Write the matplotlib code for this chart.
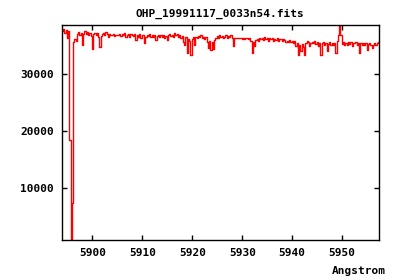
import numpy as np
import matplotlib
matplotlib.use('Agg')
import matplotlib.pyplot as plt

# spectrum, sampled every 0.25 Angstrom from 5894.0
WAVE_START = 5894.0
WAVE_STEP = 0.25

flux = [
    # 5894.00 - 5898.75
    37500, 37800, 37100, 37600, 36300, 37400, 18400, 830, 7400, 35500,
    36000, 35800, 37000, 37300, 36800, 37200, 35100, 36900, 37400, 36900,
    # 5899.00 - 5903.75
    37300, 36800, 37200, 36600, 34300, 36900, 37100, 36700, 37200, 36400,
    34700, 36600, 36900, 37200, 36800, 37300, 36900, 36500, 37000, 36800,
    # 5904.00 - 5908.75
    36700, 36900, 36600, 36700, 36800, 36700, 37000, 36600, 36900, 36700,
    37100, 36500, 36800, 36900, 36400, 37000, 36700, 36600, 36900, 35900,
    # 5909.00 - 5913.75
    36800, 36500, 36900, 36300, 36700, 36800, 35400, 36500, 36800, 36600,
    36900, 36400, 36700, 36500, 36800, 35900, 36600, 36800, 36400, 36700,
    # 5914.00 - 5918.75
    36500, 36800, 36300, 36600, 35900, 36700, 37000, 36600, 36800, 36500,
    37100, 36700, 36900, 36400, 36800, 36200, 36600, 35500, 35100, 36500,
    # 5919.00 - 5923.75
    33700, 36000, 35700, 33300, 36100, 36400, 35100, 36500, 36300, 36600,
    36400, 36700, 36200, 36500, 36000, 36400, 35600, 34500, 35800, 34200,
    # 5924.00 - 5928.75
    35500, 34300, 35900, 36200, 36600, 36300, 36700, 36400, 36600, 36200,
    36500, 36700, 36300, 36600, 36400, 36800, 36300, 34900, 36200, 36300,
    # 5929.00 - 5933.75
    36300, 36200, 36300, 36200, 36100, 36300, 36000, 36300, 36200, 36100,
    36300, 35700, 33700, 35600, 34800, 35900, 36100, 35800, 36200, 36000,
    # 5934.00 - 5938.75
    36300, 35900, 36400, 36100, 36300, 35700, 36200, 36000, 36300, 35800,
    36100, 35900, 36200, 35700, 36100, 36000, 35800, 36100, 35900, 35600,
    # 5939.00 - 5943.75
    35800, 35600, 35900, 35500, 35800, 35400, 35700, 34900, 35300, 33200,
    35100, 33900, 35200, 34600, 33200, 35300, 35800, 35500, 34800, 35400,
    # 5944.00 - 5948.75
    35600, 35300, 35700, 35200, 35500, 34900, 35400, 33200, 35300, 35600,
    35000, 35400, 33900, 35200, 35500, 35100, 35400, 35000, 35300, 33700,
    # 5949.00 - 5953.75
    35800, 36800, 38550, 36700, 35200, 35500, 35100, 35400, 35000, 35600,
    35200, 35500, 34900, 35400, 35300, 35600, 35100, 35400, 33600, 35300,
    # 5954.00 - 5957.25
    35000, 35400, 35100, 35300, 34200, 35200, 35400, 35000, 34500, 35100,
    35300, 35000, 35400, 35500,
]

xticks = [5900, 5910, 5920, 5930, 5940, 5950]
yticks = [10000, 20000, 30000]
TITLE = 'OHP_19991117_0033n54.fits'
XLABEL = 'Angstrom'

wave = WAVE_START + WAVE_STEP * np.arange(len(flux))

font = dict(family='DejaVu Sans Mono', weight='bold', size=8)

fig = plt.figure(figsize=(4.0, 2.8), dpi=100)
ax = fig.add_axes([0.156, 0.143, 0.792, 0.768])

ax.step(wave, flux, where='mid', color='#ff0000', lw=1.0)

ax.set_xlim(5894.0, 5957.4)
ax.set_ylim(830, 38550)
ax.set_xticks(xticks)
ax.set_yticks(yticks)
ax.set_xticklabels([str(t) for t in xticks], fontdict=font)
ax.set_yticklabels([str(t) for t in yticks], fontdict=font)
ax.tick_params(direction='in', length=3.5, width=1.0, top=True, right=True,
               pad=6, colors='black')
for s in ax.spines.values():
    s.set_linewidth(1.0)

fig.text(0.55, 0.95, TITLE, ha='center', va='center', fontdict=font)
fig.text(0.965, 0.033, XLABEL, ha='right', va='center', fontdict=font)

fig.savefig('out.png', dpi=100)
